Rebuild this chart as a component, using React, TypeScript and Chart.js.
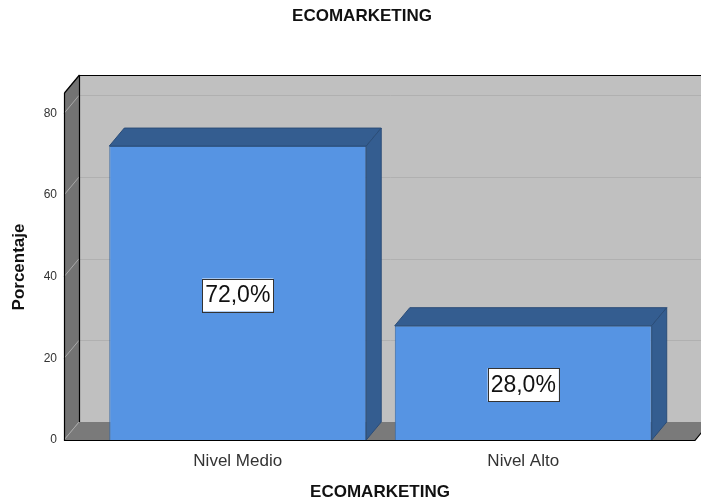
import React, { useEffect, useRef } from "react";
import { Chart, registerables } from "chart.js";

Chart.register(...registerables);

const title = "ECOMARKETING";
const xTitle = "ECOMARKETING";
const yTitle = "Porcentaje";
const categories = ["Nivel Medio", "Nivel Alto"];
const values = [72.0, 28.0];
const valueLabels = ["72,0%", "28,0%"];
const yTicks = [0, 20, 40, 60, 80];
const yMax = 85;

const DX = 15;
const DY = 18;
const FONT = "'Liberation Sans', Arial, sans-serif";

const threeD = {
  id: "threeD",
  beforeDatasetsDraw(chart: any) {
    const ctx = chart.ctx;
    const { left, right, bottom } = chart.chartArea;
    const y = chart.scales.y;
    const fl = left - 31;
    const fr = right + 29;
    const top = y.getPixelForValue(yMax);
    ctx.save();
    // back wall
    ctx.fillStyle = "#c0c0c0";
    ctx.fillRect(fl + DX, top - DY, fr - fl + 20, bottom - top);
    // back gridlines
    ctx.strokeStyle = "#b0b0b0";
    ctx.lineWidth = 1;
    for (const t of yTicks) {
      if (t === 0) continue;
      const py = Math.round(y.getPixelForValue(t) - DY) + 0.5;
      ctx.beginPath();
      ctx.moveTo(fl + DX, py);
      ctx.lineTo(fr + DX + 20, py);
      ctx.stroke();
    }
    // floor
    ctx.fillStyle = "#7a7a7a";
    ctx.beginPath();
    ctx.moveTo(fl, bottom);
    ctx.lineTo(fr, bottom);
    ctx.lineTo(fr + DX, bottom - DY);
    ctx.lineTo(fl + DX, bottom - DY);
    ctx.closePath();
    ctx.fill();
    // side wall
    ctx.fillStyle = "#737373";
    ctx.beginPath();
    ctx.moveTo(fl, bottom);
    ctx.lineTo(fl, top);
    ctx.lineTo(fl + DX, top - DY);
    ctx.lineTo(fl + DX, bottom - DY);
    ctx.closePath();
    ctx.fill();
    // side gridlines
    ctx.strokeStyle = "#a8a8a8";
    for (const t of yTicks) {
      const py = y.getPixelForValue(t);
      ctx.beginPath();
      ctx.moveTo(fl, py);
      ctx.lineTo(fl + DX, py - DY);
      ctx.stroke();
    }
    // outlines
    ctx.strokeStyle = "#000";
    ctx.lineWidth = 1.2;
    ctx.beginPath();
    ctx.moveTo(fl + DX + 0.5, bottom - DY);
    ctx.lineTo(fl + DX + 0.5, top - DY + 0.5);
    ctx.lineTo(fr + DX + 30, top - DY + 0.5);
    ctx.stroke();
    ctx.beginPath();
    ctx.moveTo(fl + 0.5, top);
    ctx.lineTo(fl + DX + 0.5, top - DY);
    ctx.stroke();
    ctx.beginPath();
    ctx.moveTo(fl + 0.5, top);
    ctx.lineTo(fl + 0.5, bottom + 0.5);
    ctx.lineTo(fr, bottom + 0.5);
    ctx.lineTo(fr + DX, bottom - DY);
    ctx.stroke();
    // tick labels
    ctx.fillStyle = "#333";
    ctx.font = `12px ${FONT}`;
    ctx.textAlign = "right";
    ctx.textBaseline = "middle";
    for (const t of yTicks) {
      ctx.fillText(String(t), fl - 7, y.getPixelForValue(t));
    }
    ctx.restore();
  },
  afterDatasetsDraw(chart: any) {
    const ctx = chart.ctx;
    const meta = chart.getDatasetMeta(0);
    ctx.save();
    meta.data.forEach((bar: any, i: number) => {
      const l = bar.x - bar.width / 2;
      const r = bar.x + bar.width / 2;
      const t = bar.y;
      const b = bar.base;
      ctx.fillStyle = "#345d90";
      ctx.strokeStyle = "#2b4d78";
      ctx.lineWidth = 1;
      // top face
      ctx.beginPath();
      ctx.moveTo(l, t);
      ctx.lineTo(l + DX, t - DY);
      ctx.lineTo(r + DX, t - DY);
      ctx.lineTo(r, t);
      ctx.closePath();
      ctx.fill();
      ctx.stroke();
      // side face
      ctx.beginPath();
      ctx.moveTo(r, t);
      ctx.lineTo(r + DX, t - DY);
      ctx.lineTo(r + DX, b - DY);
      ctx.lineTo(r, b);
      ctx.closePath();
      ctx.fill();
      ctx.stroke();
      // value label
      ctx.font = `23px ${FONT}`;
      const txt = valueLabels[i];
      const w = ctx.measureText(txt).width + 6;
      const h = 33;
      const cx = bar.x;
      const cy = (t + b) / 2 + 2;
      ctx.fillStyle = "#fff";
      ctx.fillRect(cx - w / 2, cy - h / 2, w, h);
      ctx.strokeStyle = "#333";
      ctx.strokeRect(Math.round(cx - w / 2) + 0.5, Math.round(cy - h / 2) + 0.5, Math.round(w), h);
      ctx.fillStyle = "#111";
      ctx.textAlign = "center";
      ctx.textBaseline = "middle";
      ctx.fillText(txt, cx, cy + 1);
    });
    // category labels
    const x = chart.scales.x;
    ctx.fillStyle = "#333";
    ctx.font = `17px ${FONT}`;
    ctx.textAlign = "center";
    ctx.textBaseline = "middle";
    categories.forEach((c, i) => {
      ctx.fillText(c, x.getPixelForValue(i), 461);
    });
    // titles
    ctx.fillStyle = "#111";
    ctx.font = `bold 17px ${FONT}`;
    ctx.fillText(title, 362, 16);
    ctx.fillText(xTitle, 380, 492);
    ctx.save();
    ctx.translate(19, 267);
    ctx.rotate(-Math.PI / 2);
    ctx.fillText(yTitle, 0, 0);
    ctx.restore();
    ctx.restore();
  },
};

export default function App() {
  const ref = useRef<HTMLCanvasElement>(null);
  useEffect(() => {
    document.body.style.margin = "0";
    const chart = new Chart(ref.current!, {
      type: "bar",
      data: {
        labels: categories,
        datasets: [
          {
            data: values,
            backgroundColor: "#5694e3",
            borderColor: "#3a6aa3",
            borderWidth: 1,
            barPercentage: 0.9,
            categoryPercentage: 1,
          },
        ],
      },
      options: {
        responsive: false,
        animation: false,
        layout: { padding: { left: 95, right: 35, top: 93, bottom: 64 } },
        plugins: { legend: { display: false }, tooltip: { enabled: false } },
        scales: {
          x: { display: false, offset: true },
          y: { display: false, min: 0, max: yMax },
        },
      },
      plugins: [threeD],
    });
    return () => chart.destroy();
  }, []);
  return (
    <div style={{ width: 701, height: 504, background: "#fff" }}>
      <canvas ref={ref} width={701} height={504} />
    </div>
  );
}
